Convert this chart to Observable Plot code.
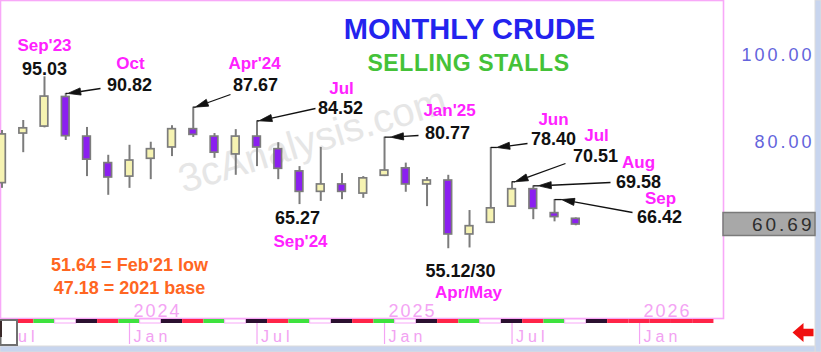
<!DOCTYPE html>
<html><head><meta charset="utf-8">
<script src="https://cdn.jsdelivr.net/npm/d3@7"></script>
<script src="https://cdn.jsdelivr.net/npm/@observablehq/plot@0.6"></script>
<style>
html,body{margin:0;padding:0;background:#fff;}
#chart svg{display:block}
</style></head><body><div id="chart"></div>
<script>
// ---------------- DATA ----------------
// month index: 0 = Jan 2024
const monthIdx = [-6,-5,-4,-3,-2,-1,0,1,2,3,4,5,6,7,8,9,10,11,12,13,14,15,16,17,18,19,20,21];
const monthNames = ["Jul'23","Aug'23","Sep'23","Oct'23","Nov'23","Dec'23","Jan'24","Feb'24","Mar'24","Apr'24","May'24","Jun'24","Jul'24","Aug'24","Sep'24","Oct'24","Nov'24","Dec'24","Jan'25","Feb'25","Mar'25","Apr'25","May'25","Jun'25","Jul'25","Aug'25","Sep'25","Oct'25"];
const opens  = [70.2,81.6,83.2,90.0,80.9,74.8,71.7,75.8,78.4,82.6,80.9,76.8,80.9,78.0,72.9,68.2,69.9,67.8,71.9,73.6,69.9,70.8,58.4,61.1,64.8,68.8,63.3,62.0];
const highs  = [82.3,84.6,95.03,90.82,83.0,76.6,78.9,79.6,83.4,87.67,81.6,82.5,84.52,79.5,74.0,78.4,72.4,71.7,80.77,74.8,71.5,72.0,63.9,78.40,70.51,69.58,66.42,62.2];
const lows   = [69.0,77.2,82.9,80.0,71.7,67.4,69.0,71.0,76.3,80.7,75.9,72.0,74.0,71.0,65.27,66.0,66.4,66.7,71.7,68.1,64.8,55.12,55.30,60.9,64.6,61.8,61.3,60.4];
const closes = [81.4,82.8,90.1,81.0,75.6,71.5,75.4,78.0,82.6,81.3,77.2,80.9,78.4,73.5,68.2,69.9,68.2,71.3,73.1,69.9,70.8,58.4,60.3,64.4,68.8,64.3,62.4,60.69];

const tickMonths = [-6,0,6,12,18,24];
const tickLabels = ["Jul","Jan","Jul","Jan","Jul","Jan"];
const yearMonths = [0,12,24];
const yearLabels = ["2024","2025","2026"];
const yTicks = [80,100];
const lastPrice = 60.69;

const annMonthText = ["Sep'23","Oct","Apr'24","Jul","Jan'25","Jun","Jul","Aug","Sep","Sep'24","Apr/May"];
const annValueText = ["95.03","90.82","87.67","84.52","80.77","78.40","70.51","69.58","66.42","65.27","55.12/30"];
const annCandle    = [-4,-3,3,6,12,17,18,19,20,8,15];
const noteLines = ["51.64 = Feb'21 low","47.18 = 2021 base"];
const titleText = "MONTHLY CRUDE";
const subtitleText = "SELLING STALLS";
const watermarkText = "3cAnalysis.com";
// cycle strip, one code per month from Jul'23 (B=black R=red G=green W=white)
const stripMonths = d3.range(-6, 28);
const stripCodes = "BRGWBRGWBRGWBRGWBRGWBRGWBRGWBRRRRR".split("");

// ---------------- LAYOUT ----------------
const W = 821, H = 352;
const xDomain = [-6.07, 27.95], xRange = [0, 723];
const yDomain = [40, 100], yRange = [314, 53];
const X = Plot.scale({x: {domain: xDomain, range: xRange}});
const Y = Plot.scale({y: {domain: yDomain, range: yRange}});
const ix = px => X.invert(px), iy = py => Y.invert(py);

const annLayout = [
  {mx:44, my:50, vx:44, vy:74},
  {mx:130,my:68, vx:129,vy:90, ax:100,ay:88, tip:2},
  {mx:254,my:68, vx:255,vy:90, ax:230,ay:94, tip:2},
  {mx:341,my:93, vx:340,vy:113, ax:315,ay:108, tip:2},
  {mx:449,my:115,vx:447,vy:138, ax:418,ay:135, tip:6},
  {mx:553,my:124,vx:553,vy:144, ax:527,ay:143, tip:6},
  {mx:596,my:140,vx:595,vy:161, ax:565,ay:163, tip:3},
  {mx:638,my:167,vx:638,vy:187, ax:610,ay:182, tip:5},
  {mx:660,my:203,vx:659,vy:222, ax:632,ay:212, tip:7},
  {mx:300,my:246,vx:297,vy:223},
  {mx:468,my:297,vx:460,vy:276}
];

const candles = monthIdx.map((m,i)=>({m, name: monthNames[i], o:opens[i], h:highs[i], l:lows[i], c:closes[i]}));
const byM = new Map(candles.map(d=>[d.m,d]));

const ann = annMonthText.map((t,i)=>({month:t, value:annValueText[i], m:annCandle[i], ...annLayout[i]}));

// arrows
const links = [], heads = [];
ann.forEach((a,i)=>{
  if (a.ax === undefined) return;
  const c = byM.get(a.m);
  const wx = X.apply(c.m), wy = Y.apply(c.h);
  const tx = wx + a.tip, ty = wy;
  const dx = tx - a.ax, dy = ty - a.ay, len = Math.hypot(dx,dy);
  const ux = dx/len, uy = dy/len, L = 13, w = 3.6;
  const bx = tx - ux*L, by = ty - uy*L;
  links.push({x1: ix(a.ax), y1: iy(a.ay), x2: ix(bx), y2: iy(by)});
  links.push({x1: ix(wx), y1: iy(wy), x2: ix(tx), y2: iy(ty)});
  const pts = [[tx,ty],[bx - uy*w, by + ux*w],[bx + uy*w, by - ux*w],[tx,ty]];
  pts.forEach(p=>heads.push({id:i, x: ix(p[0]), y: iy(p[1])}));
});

const stripColor = {B:"#2b1030", R:"#ff2448", G:"#3ee23e", W:"#ffffff"};
const strip = stripMonths.map((m,i)=>({m, code: stripCodes[i]}));

const leftArrow = {
  draw(ctx) {
    ctx.moveTo(-11,0); ctx.lineTo(0,-9.5); ctx.lineTo(0,-3.8); ctx.lineTo(10,-3.8);
    ctx.lineTo(10,3.8); ctx.lineTo(0,3.8); ctx.lineTo(0,9.5); ctx.closePath();
  }
};

const FONT = "Liberation Sans, Arial, sans-serif";
const PINK = "#ff22ff";

const plot = Plot.plot({
  width: W, height: H,
  marginLeft: 0, marginRight: 98, marginTop: 0, marginBottom: 34,
  x: {domain: xDomain, range: xRange, axis: null},
  y: {domain: yDomain, range: yRange, axis: null},
  style: {fontFamily: FONT, background: "#fff", overflow: "visible"},
  marks: [
    // watermark
    Plot.text([watermarkText], {x: ix(312), y: iy(140), text: d=>d, rotate: -17, fontSize: 40, fill: "#e6e6e6", fontFamily: FONT}),
    // plot frame
    Plot.frame({stroke: "#f8a8f8", strokeWidth: 1.6}),
    // outer light-blue window border
    Plot.rect([0], {x1: ix(815), x2: ix(821), y1: iy(0), y2: iy(352), fill: "#c8d5ee", stroke: "#dcdcdc", strokeWidth: 1}),
    Plot.rect([0], {x1: ix(0), x2: ix(815), y1: iy(346), y2: iy(352), fill: "#c8d5ee", stroke: "#dcdcdc", strokeWidth: 1}),
    // cycle strip
    Plot.rect(strip, {x1: d=>d.m-0.5, x2: d=>d.m+0.5, y1: ()=>iy(323), y2: ()=>iy(319),
      fill: d=>stripColor[d.code], stroke: d=>d.code==="W" ? "#f8a8f8" : "none", strokeWidth: 1}),
    // x ticks and labels
    Plot.ruleX(tickMonths, {x: d=>d, y1: ()=>iy(323), y2: ()=>iy(344), stroke: "#f4a4f4", strokeWidth: 1.2}),
    Plot.text(tickLabels, {x: (d,i)=>tickMonths[i], y: ()=>iy(341), text: d=>d, textAnchor: "start", lineAnchor: "bottom", dx: 4,
      fontSize: 16, fill: "#f2a2f2", ariaDescription: "ls4"}),
    Plot.text(yearLabels, {x: (d,i)=>yearMonths[i], y: ()=>iy(316), text: d=>d, textAnchor: "start", lineAnchor: "bottom", dx: 4,
      fontSize: 18, fill: "#f4a4f4", ariaDescription: "ls2"}),
    // left small box
    Plot.rect([0], {x1: ix(0.5), x2: ix(17), y1: iy(320), y2: iy(345), fill: "#fff", stroke: "#707070", strokeWidth: 2}),
    Plot.rect([0], {x1: ix(0), x2: ix(2), y1: iy(321), y2: iy(337), fill: "#3a2a2a"}),
    // red arrow (bottom right)
    Plot.dot([0], {x: ix(803), y: iy(332), symbol: leftArrow, fill: "#f01010", stroke: "none"}),
    // right axis labels
    Plot.text(yTicks, {x: ix(814), y: d=>d, text: d=>d.toFixed(2), textAnchor: "end", dy: 2,
      fontSize: 18, fill: "#6464dc", ariaDescription: "ls3"}),
    // last price box
    Plot.rect([lastPrice], {x1: ix(723), x2: ix(815), y1: d=>iy(Y.apply(d)+11.5), y2: d=>iy(Y.apply(d)-11.5), fill: "#a8a8a8", stroke: "#7a7a7a", strokeWidth: 1.5}),
    Plot.text([lastPrice], {x: ix(814), y: d=>d, text: d=>d.toFixed(2), textAnchor: "end", dy: 0,
      fontSize: 19, fill: "#2e2e2e", ariaDescription: "ls3"}),
    // candles
    Plot.ruleX(candles, {x: "m", y1: "l", y2: "h", stroke: "#7c7c7c", strokeWidth: 2}),
    Plot.rect(candles, {x1: d=>d.m-0.18, x2: d=>d.m+0.18, y1: d=>Math.min(d.o,d.c), y2: d=>Math.max(d.o,d.c),
      fill: d=>d.c>=d.o ? "#f6f3b2" : "#8b1ff0", stroke: "#7c7c7c", strokeWidth: 1.7}),
    // arrows
    Plot.link(links, {x1: "x1", y1: "y1", x2: "x2", y2: "y2", stroke: "#111", strokeWidth: 1.3}),
    Plot.line(heads, {x: "x", y: "y", z: "id", fill: "#111", stroke: "#111", strokeWidth: 0.8}),
    // annotations
    Plot.text(ann, {x: d=>ix(d.mx), y: d=>iy(d.my), text: "month", lineAnchor: "bottom", fontSize: 17, fontWeight: "bold", fill: PINK}),
    Plot.text(ann, {x: d=>ix(d.vx), y: d=>iy(d.vy), text: "value", lineAnchor: "bottom", fontSize: 18, fontWeight: "bold", fill: "#111", stroke: "#fff", strokeWidth: 2.5}),
    // notes
    Plot.text(noteLines, {x: ()=>ix(129), y: (d,i)=>iy(270 + 23*i), text: d=>d, lineAnchor: "bottom", fontSize: 18, fontWeight: "bold", fill: "#ff6622"}),
    // title
    Plot.text([titleText], {x: ix(469), y: iy(38), text: d=>d, lineAnchor: "bottom", fontSize: 29, fontWeight: "bold", fill: "#2323ee"}),
    Plot.text([subtitleText], {x: ix(468), y: iy(70), text: d=>d, lineAnchor: "bottom", fontSize: 23, fontWeight: "bold", fill: "#44c238", ariaDescription: "ls05"})
  ]
});

const svg = d3.select(plot);
svg.selectAll('g[aria-description="ls4"]').style("letter-spacing", "4px");
svg.selectAll('g[aria-description="ls3"]').style("letter-spacing", "3px");
svg.selectAll('g[aria-description="ls2"]').style("letter-spacing", "2px");
svg.selectAll('g[aria-description="ls05"]').style("letter-spacing", "0.6px");
document.getElementById("chart").appendChild(plot);
</script>
</body></html>
